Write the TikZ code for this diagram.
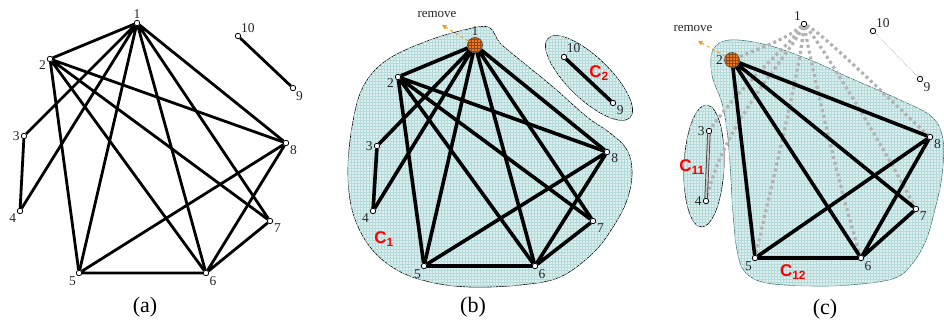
\documentclass[tikz,border=0pt]{standalone}
\usepackage{fontspec}
\setmainfont{Liberation Serif}
\newfontfamily\clusterfont{Liberation Sans}
\usepackage{xcolor}
\usepackage{tikz}
\usetikzlibrary{arrows.meta,patterns}
\definecolor{blobfill}{HTML}{DDEFEF}
\definecolor{gridline}{HTML}{B4DADA}
\definecolor{tealline}{HTML}{3E6F6F}
\definecolor{hot}{HTML}{F07820}
\definecolor{rmorange}{HTML}{F0A020}

\begin{document}
\begin{tikzpicture}[x=1pt, y=-1pt,
  vtx/.style={circle, draw=black, fill=white, line width=0.8pt,
              minimum size=5.5pt, inner sep=0pt},
  hotvtx/.style={circle, draw=black!70, fill=hot, line width=0.7pt,
                 minimum size=15pt, inner sep=0pt,
                 postaction={pattern=grid, pattern color=hot!60!black}},
  lbl/.style={font=\fontsize{13.5}{13.5}\selectfont, text=black!85, inner sep=1pt},
  ed/.style={line width=2.8pt, black},
  edb/.style={line width=3.6pt, black},
  gone/.style={line width=3.2pt, gray!60, dash pattern=on 3pt off 3pt},
  blob/.style={fill=blobfill, postaction={pattern=grid, pattern color=gridline},
               draw=black, line width=0.6pt},
  clab/.style={font={\clusterfont\bfseries\fontsize{17}{17}\selectfont}, text=red},
  rmtext/.style={font=\fontsize{13}{13}\selectfont, text=black!85},
  rm/.style={dashed, rmorange, line width=1pt, -{Triangle[length=4.5pt, width=4.5pt]}},
  panel/.style={font=\fontsize{22}{22}\selectfont}
]
\useasboundingbox (0,0) rectangle (944,327);

% (a) the whole graph
\node[vtx, label={[lbl]above:1}] (a1) at (137,23) {};
\node[vtx, label={[lbl]195:2}] (a2) at (50,59) {};
\node[vtx, label={[lbl]left:3}] (a3) at (24,136) {};
\node[vtx, label={[lbl]210:4}] (a4) at (20,211) {};
\node[vtx, label={[lbl]235:5}] (a5) at (79,273) {};
\node[vtx, label={[lbl]-40:6}] (a6) at (206,273) {};
\node[vtx, label={[lbl]-25:7}] (a7) at (270,221) {};
\node[vtx, label={[lbl]-20:8}] (a8) at (286,143) {};
\node[vtx, label={[lbl]-50:9}] (a9) at (293,88) {};
\node[vtx, label={[lbl]50:10}] (a10) at (238,36) {};
\draw[ed] (a1) -- (a2) (a1) -- (a3) (a1) -- (a4) (a1) -- (a5)
          (a1) -- (a6) (a1) -- (a7) (a1) -- (a8);
\draw[ed] (a2) -- (a5) (a2) -- (a6) (a2) -- (a7) (a2) -- (a8);
\draw[ed] (a3) -- (a4) (a5) -- (a6) (a5) -- (a8) (a6) -- (a8) (a6) -- (a7);
\draw[ed] (a10) -- (a9);
\node[panel] (pa) at (145,307) {(a)};

% (b) two clusters, vertex 1 goes
\draw[blob] plot[smooth cycle, tension=0.6] coordinates {
  (473,28) (490,28) (500,43) (520,60) (553,87) (587,117) (610,133)
  (627,150) (632,173) (627,200) (613,227) (593,253) (560,277) (520,285)
  (470,287) (430,282) (397,270) (370,247) (353,213) (348,173) (352,127)
  (363,87) (387,60) (430,40)};
\draw[blob, rotate around={-44:(589,78)}] (589,78) ellipse [x radius=57pt, y radius=21pt];
\node[hotvtx, label={[lbl]above:1}] (b1) at (475,45) {};
\node[vtx, label={[lbl]195:2}] (b2) at (398,77) {};
\node[vtx, label={[lbl]left:3}] (b3) at (377,146) {};
\node[vtx, label={[lbl]205:4}] (b4) at (373,211) {};
\node[vtx, label={[lbl]230:5}] (b5) at (424,266) {};
\node[vtx, label={[lbl]-40:6}] (b6) at (535,266) {};
\node[vtx, label={[lbl]-25:7}] (b7) at (593,221) {};
\node[vtx, label={[lbl]-15:8}] (b8) at (607,152) {};
\node[vtx, label={[lbl]-35:9}] (b9) at (613,103) {};
\node[vtx, label={[lbl]60:10}] (b10) at (564,57) {};
\draw[edb] (b1) -- (b2) (b1) -- (b3) (b1) -- (b4) (b1) -- (b5)
           (b1) -- (b6) (b1) -- (b7) (b1) -- (b8);
\draw[edb] (b2) -- (b5) (b2) -- (b6) (b2) -- (b7) (b2) -- (b8);
\draw[edb] (b3) -- (b4) (b5) -- (b6) (b5) -- (b8) (b6) -- (b8) (b6) -- (b7);
\draw[edb] (b10) -- (b9);
\node[rmtext] (brem) at (437,14) {remove};
\coordinate (bout) at (442,25);
\draw[rm] (b1) -- (bout);
\node[clab] (lc1) at (384,239) {C\textsubscript{1}};
\node[clab] (lc2) at (599,73) {C\textsubscript{2}};
\node[panel] (pb) at (473,307) {(b)};

% (c) C1 splits once vertex 2 goes
\draw[blob, draw=tealline] plot[smooth cycle, tension=0.6] coordinates {
  (713,50) (730,40) (767,45) (810,60) (850,78) (900,100) (932,117)
  (943,140) (942,175) (936,205) (926,240) (912,264) (895,278) (860,284)
  (817,286) (767,283) (745,272) (737,250) (733,213) (730,163) (727,130)
  (722,103) (712,75)};
\draw[blob, rotate around={-2.5:(704,166)}] (704,166) ellipse [x radius=20pt, y radius=61pt];
\node[vtx, label={[lbl]130:1}] (c1) at (804,24) {};
\node[hotvtx, draw=tealline, label={[lbl]left:2}] (c2) at (732,60) {};
\node[vtx, label={[lbl]left:3}] (c3) at (709,131) {};
\node[vtx, label={[lbl]left:4}] (c4) at (706,201) {};
\node[vtx, label={[lbl]230:5}] (c5) at (755,258) {};
\node[vtx, label={[lbl]-40:6}] (c6) at (861,258) {};
\node[vtx, label={[lbl]-30:7}] (c7) at (916,209) {};
\node[vtx, label={[lbl]-20:8}] (c8) at (930,137) {};
\node[vtx, label={[lbl]-40:9}] (c9) at (920,79) {};
\node[vtx, label={[lbl]50:10}] (c10) at (873,31) {};
\draw[gone] (c1) .. controls (785,40) and (760,48) .. (c2);
\draw[gone] (c1) .. controls (790,45) and (745,80) .. (c3);
\draw[gone] (c1) .. controls (790,55) and (725,120) .. (c4);
\draw[gone] (c1) .. controls (800,70) and (775,170) .. (c5);
\draw[gone] (c1) .. controls (812,70) and (840,190) .. (c6);
\draw[gone] (c1) .. controls (825,50) and (885,150) .. (c7);
\draw[gone] (c1) .. controls (825,35) and (895,105) .. (c8);
\draw[edb] (c2) -- (c5) (c2) -- (c6) (c2) -- (c7) (c2) -- (c8);
\draw[edb] (c5) -- (c6) (c5) -- (c8) (c6) -- (c8) (c6) -- (c7);
\draw[draw=black!75, line width=0.8pt, double=gray!45, double distance=1.8pt] (c3) -- (c4);
\draw[densely dotted, gray!70, line width=0.6pt] (c10) -- (c9);
\node[rmtext] (crem) at (693,28) {remove};
\coordinate (cout) at (698,41);
\draw[rm] (c2) -- (cout);
\node[clab] (lc11) at (692,167) {C\textsubscript{11}};
\node[clab] (lc12) at (793,272) {C\textsubscript{12}};
\node[panel] (pc) at (825,309) {(c)};
\end{tikzpicture}
\end{document}
